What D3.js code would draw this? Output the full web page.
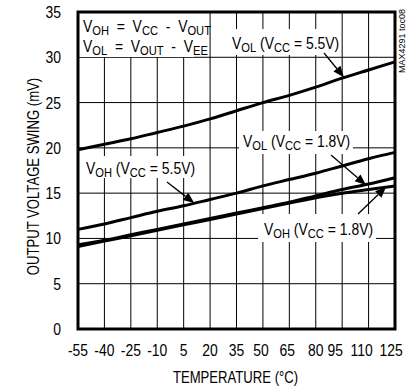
<!DOCTYPE html>
<html>
<head>
<meta charset="utf-8">
<script src="https://cdn.jsdelivr.net/npm/d3@7"></script>
<style>
  html, body { margin: 0; padding: 0; background: #fff; }
  svg { display: block; }
  text { font-family: "Liberation Sans", Arial, Helvetica, sans-serif; fill: #000; }
</style>
</head>
<body>
<svg id="chart" width="406" height="387"></svg>
<script>
// Temperature sweep (°C) and output swing (mV) for each curve
const temperature = [-55, -40, -25, -10, 5, 20, 35, 50, 65, 80, 95, 110, 125];
const volVcc55 = [19.8, 20.4, 21.0, 21.7, 22.4, 23.2, 24.1, 25.0, 25.8, 26.7, 27.7, 28.6, 29.5];
const vohVcc55 = [11.0, 11.6, 12.3, 13.0, 13.6, 14.3, 15.0, 15.8, 16.5, 17.2, 18.0, 18.8, 19.5];
const volVcc18 = [9.3, 9.8, 10.4, 11.0, 11.6, 12.2, 12.8, 13.4, 14.0, 14.7, 15.4, 16.0, 16.7];
const vohVcc18 = [9.1, 9.7, 10.3, 10.9, 11.5, 12.1, 12.7, 13.3, 13.9, 14.5, 15.0, 15.4, 15.8];

const xTicks = [-55, -40, -25, -10, 5, 20, 35, 50, 65, 80, 95, 110, 125];
const yTicks = [0, 5, 10, 15, 20, 25, 30, 35];

const svg = d3.select("#chart");
const plotL = 78, plotR = 395, plotT = 12, plotB = 329;
const narrow = 0.82; // horizontal condensing applied to all lettering
const sp = "\u00a0\u00a0"; // wide gap used in the definition lines

const x = d3.scaleLinear().domain([-55, 125]).range([plotL, plotR]);
const y = d3.scaleLinear().domain([0, 35]).range([plotB, plotT]);

// grid
const grid = svg.append("g");
grid.selectAll("line.v").data(xTicks.slice(1, -1)).join("line")
  .attr("x1", d => x(d)).attr("x2", d => x(d))
  .attr("y1", plotT).attr("y2", plotB)
  .attr("stroke", "#000").attr("stroke-width", 1);
grid.selectAll("line.h").data(yTicks.slice(1, -1)).join("line")
  .attr("x1", plotL).attr("x2", plotR)
  .attr("y1", d => y(d)).attr("y2", d => y(d))
  .attr("stroke", "#000").attr("stroke-width", 1);

// axes (labels only; frame drawn separately)
const fmt = d => String(d); // plain hyphen-minus
const xAxis = svg.append("g")
  .attr("transform", `translate(0,${plotB})`)
  .call(d3.axisBottom(x).tickValues(xTicks).tickFormat(fmt).tickSize(0).tickPadding(0));
xAxis.select(".domain").remove();
const xShift = { 50: -2, 65: -2, 95: -7, 110: -7, 125: -4 };
xAxis.selectAll(".tick")
  .attr("transform", d => `translate(${x(d) + (xShift[d] || 0)},0)`);
xAxis.selectAll("text")
  .attr("dy", null).attr("y", 27)
  .attr("transform", `scale(${narrow},1)`)
  .style("font-size", "17px");

const yAxis = svg.append("g")
  .attr("transform", `translate(${plotL},0)`)
  .call(d3.axisLeft(y).tickValues(yTicks).tickFormat(fmt).tickSize(0));
yAxis.select(".domain").remove();
yAxis.selectAll("text")
  .attr("x", -17 / narrow)
  .attr("transform", `scale(${narrow},1)`)
  .style("font-size", "17px");
xAxis.attr("font-family", null).attr("font-size", null);
yAxis.attr("font-family", null).attr("font-size", null);

// axis titles
svg.append("text")
  .attr("transform", `translate(${(plotL + plotR) / 2 - 1},383) scale(${narrow},1)`)
  .attr("text-anchor", "middle").style("font-size", "16px")
  .text("TEMPERATURE (°C)");
svg.append("text")
  .attr("transform", `translate(39,${(plotT + plotB) / 2 + 6}) rotate(-90) scale(${narrow},1)`)
  .attr("text-anchor", "middle").style("font-size", "16px")
  .text("OUTPUT VOLTAGE SWING (mV)");

// part reference
svg.append("text")
  .attr("transform", "translate(405,41) rotate(-90)")
  .attr("text-anchor", "middle").style("font-size", "9px")
  .attr("textLength", 64).attr("lengthAdjust", "spacingAndGlyphs")
  .text("MAX4291 toc08");

// label with subscripts: parts = [[text, isSub], ...]
function richText(g, px, py, parts, size) {
  const t = g.append("text")
    .attr("transform", `translate(${px},${py}) scale(${narrow},1)`)
    .style("font-size", size + "px");
  let sub = false;
  parts.forEach(([s, isSub]) => {
    const ts = t.append("tspan").text(s);
    if (isSub) ts.style("font-size", (size * 0.8) + "px");
    if (isSub && !sub) ts.attr("dy", 3);
    else if (!isSub && sub) ts.attr("dy", -3);
    sub = isSub;
  });
  return t;
}

const labelLayer = svg.append("g");

// white backings for annotations
const backs = [
  [-55, 35, 194 - plotL, 45],
  [x.invert(228), y.invert(29), 113, 26],
  [x.invert(239), y.invert(131), 114, 23],
  [x.invert(80), y.invert(156), 116, 22],
  [x.invert(258), y.invert(214), 118, 28]
];
labelLayer.selectAll("rect").data(backs).join("rect")
  .attr("x", d => x(d[0])).attr("y", d => y(d[1]))
  .attr("width", d => d[2]).attr("height", d => d[3])
  .attr("fill", "#fff");

// curves
const line = d3.line()
  .x((d, i) => x(temperature[i]))
  .y(d => y(d))
  .curve(d3.curveMonotoneX);
[volVcc55, vohVcc55, volVcc18, vohVcc18].forEach(series => {
  svg.append("path").datum(series)
    .attr("d", line)
    .attr("fill", "none").attr("stroke", "#000")
    .attr("stroke-width", 3).attr("stroke-linejoin", "round");
});

// annotation text
const txt = svg.append("g");
richText(txt, 83, 32, [["V", false], ["OH", true], [sp + "=" + sp + "V", false], ["CC", true], [sp + "-" + sp + "V", false], ["OUT", true]], 17);
richText(txt, 83, 52, [["V", false], ["OL", true], [sp + "=" + sp + "V", false], ["OUT", true], [sp + "-" + sp + "V", false], ["EE", true]], 17);
richText(txt, 232, 49, [["V", false], ["OL", true], [" (V", false], ["CC", true], [" = 5.5V)", false]], 17);
richText(txt, 243, 147, [["V", false], ["OL", true], [" (V", false], ["CC", true], [" = 1.8V)", false]], 17);
richText(txt, 86, 174, [["V", false], ["OH", true], [" (V", false], ["CC", true], [" = 5.5V)", false]], 17);
richText(txt, 264, 235, [["V", false], ["OH", true], [" (V", false], ["CC", true], [" = 1.8V)", false]], 17);

// arrows: [tailT, tailV, tipT, tipV]
const arrows = [
  [x.invert(324), y.invert(53), 96, 27.8],
  [x.invert(331), y.invert(155), 108.5, 15.9],
  [x.invert(167), y.invert(182), 11, 13.9],
  [x.invert(358), y.invert(214), 120, 15.7]
];
const arrowG = svg.append("g");
arrows.forEach(([t0, v0, t1, v1]) => {
  const x0 = x(t0), y0 = y(v0), x1 = x(t1), y1 = y(v1);
  const ang = Math.atan2(y1 - y0, x1 - x0);
  const len = 11, half = 4.5;
  const bx = x1 - len * Math.cos(ang), by = y1 - len * Math.sin(ang);
  arrowG.append("line")
    .attr("x1", x0).attr("y1", y0).attr("x2", bx).attr("y2", by)
    .attr("stroke", "#000").attr("stroke-width", 1.3);
  const px = -Math.sin(ang) * half, py = Math.cos(ang) * half;
  arrowG.append("path")
    .attr("d", `M${x1},${y1}L${bx + px},${by + py}L${bx - px},${by - py}Z`)
    .attr("fill", "#000");
});

// plot frame
svg.append("rect")
  .attr("x", plotL).attr("y", plotT)
  .attr("width", plotR - plotL).attr("height", plotB - plotT)
  .attr("fill", "none").attr("stroke", "#000").attr("stroke-width", 3);
</script>
</body>
</html>
